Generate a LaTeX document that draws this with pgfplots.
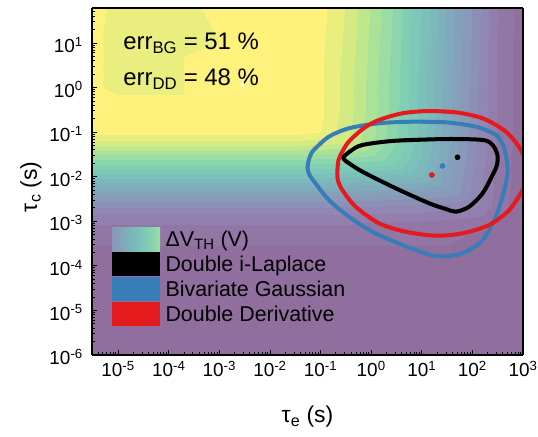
\documentclass[border=0pt]{standalone}
\usepackage{fontspec}
\setmainfont{Liberation Sans}
\usepackage{pgfplots}
\pgfplotsset{compat=1.18}
\definecolor{cBlue}{RGB}{55,126,184}
\definecolor{cRed}{RGB}{228,26,28}
\definecolor{v0}{RGB}{144,110,158}
\definecolor{v1}{RGB}{146,130,177}
\definecolor{v2}{RGB}{137,151,185}
\definecolor{v3}{RGB}{128,170,187}
\definecolor{v4}{RGB}{122,189,186}
\definecolor{v5}{RGB}{126,206,179}
\definecolor{v6}{RGB}{158,223,161}
\definecolor{v7}{RGB}{204,234,132}
\definecolor{v8}{RGB}{254,241,124}
\pgfdeclarehorizontalshading{vleg}{100bp}{color(0bp)=(v0); color(12.5bp)=(v1); color(25bp)=(v2); color(37.5bp)=(v3); color(50bp)=(v4); color(62.5bp)=(v5); color(75bp)=(v6); color(87.5bp)=(v7); color(100bp)=(v8)}
\begin{document}
\begin{tikzpicture}
\begin{axis}[
  view={0}{90},
  scale only axis, width=431bp, height=347bp,
  xmode=log, ymode=log,
  xmin=3.05e-6, xmax=1e3, ymin=1e-6, ymax=61,
  enlargelimits=false,
  axis on top=true,
  colormap={myv}{rgb255=(144,110,158) rgb255=(146,130,177) rgb255=(137,151,185) rgb255=(128,170,187) rgb255=(122,189,186) rgb255=(126,206,179) rgb255=(158,223,161) rgb255=(204,234,132) rgb255=(254,241,124)},
  xtick={1e-5,1e-4,1e-3,1e-2,1e-1,1,10,100,1000},
  xticklabels={10\textsuperscript{-5},10\textsuperscript{-4},10\textsuperscript{-3},10\textsuperscript{-2},10\textsuperscript{-1},10\textsuperscript{0},10\textsuperscript{1},10\textsuperscript{2},10\textsuperscript{3}},
  minor xtick={4e-6,5e-6,6e-6,7e-6,8e-6,9e-6,2e-5,3e-5,4e-5,5e-5,6e-5,7e-5,8e-5,9e-5,2e-4,3e-4,4e-4,5e-4,6e-4,7e-4,8e-4,9e-4,2e-3,3e-3,4e-3,5e-3,6e-3,7e-3,8e-3,9e-3,2e-2,3e-2,4e-2,5e-2,6e-2,7e-2,8e-2,9e-2,0.2,0.3,0.4,0.5,0.6,0.7,0.8,0.9,2,3,4,5,6,7,8,9,20,30,40,50,60,70,80,90,200,300,400,500,600,700,800,900},
  ytick={1e-6,1e-5,1e-4,1e-3,1e-2,1e-1,1,10},
  yticklabels={10\textsuperscript{-6},10\textsuperscript{-5},10\textsuperscript{-4},10\textsuperscript{-3},10\textsuperscript{-2},10\textsuperscript{-1},10\textsuperscript{0},10\textsuperscript{1}},
  minor ytick={2e-6,3e-6,4e-6,5e-6,6e-6,7e-6,8e-6,9e-6,2e-5,3e-5,4e-5,5e-5,6e-5,7e-5,8e-5,9e-5,2e-4,3e-4,4e-4,5e-4,6e-4,7e-4,8e-4,9e-4,2e-3,3e-3,4e-3,5e-3,6e-3,7e-3,8e-3,9e-3,2e-2,3e-2,4e-2,5e-2,6e-2,7e-2,8e-2,9e-2,0.2,0.3,0.4,0.5,0.6,0.7,0.8,0.9,2,3,4,5,6,7,8,9,20,30,40,50,60},
  xtick pos=bottom, ytick pos=left,
  tick align=inside,
  major tick length=5bp, minor tick length=3bp,
  every tick/.style={black, line width=0.8bp},
  axis line style={line width=1.5bp, black},
  xticklabel style={font=\fontsize{19}{19}\selectfont, anchor=base, yshift=-22bp},
  yticklabel style={font=\fontsize{19}{19}\selectfont, anchor=east, inner sep=0pt, xshift=-9bp, yshift=-2bp},
  xlabel={τ\textsubscript{e} (s)},
  ylabel={τ\textsubscript{c} (s)},
  xlabel style={font=\fontsize{23}{23}\selectfont, at={(axis description cs:0.5,-0.196)}, anchor=base},
  ylabel style={font=\fontsize{23}{23}\selectfont, at={(axis description cs:-0.128,0.485)}, anchor=base},
  legend style={at={(axis description cs:0.046,0.368)}, anchor=north west, draw=none, fill=none,
    font=\fontsize{21.5}{23}\selectfont, inner sep=0pt, row sep=1bp, column sep=5bp,
    nodes={inner sep=0.5bp, font=\fontsize{21.5}{23}\selectfont}},
  legend cell align=left,
]
\addplot3[contour filled={number=20}, mesh/rows=18, mesh/cols=15, forget plot] coordinates {
(1e-6,1e-6,0.05) (1e-5,1e-6,0.05) (1e-4,1e-6,0.02) (1e-3,1e-6,0.05) (1e-2,1e-6,0.05) (0.03162,1e-6,0.01) (0.1,1e-6,0.05) (0.3162,1e-6,0.01) (1,1e-6,0.05) (3.162,1e-6,0.05) (10,1e-6,0.01) (31.62,1e-6,0.05) (100,1e-6,0.01) (316.2,1e-6,0.04) (1000,1e-6,0.05)
(1e-6,1e-5,0.05) (1e-5,1e-5,0.05) (1e-4,1e-5,0.05) (1e-3,1e-5,0.05) (1e-2,1e-5,0.02) (0.03162,1e-5,0.05) (0.1,1e-5,0.01) (0.3162,1e-5,0.05) (1,1e-5,0.05) (3.162,1e-5,0.05) (10,1e-5,0.05) (31.62,1e-5,0.01) (100,1e-5,0.05) (316.2,1e-5,0.02) (1000,1e-5,0.05)
(1e-6,1e-4,0.05) (1e-5,1e-4,0.05) (1e-4,1e-4,0.05) (1e-3,1e-4,0.05) (1e-2,1e-4,0.05) (0.03162,1e-4,0.05) (0.1,1e-4,0.05) (0.3162,1e-4,0.05) (1,1e-4,0.05) (3.162,1e-4,0.05) (10,1e-4,0.05) (31.62,1e-4,0.05) (100,1e-4,0.04) (316.2,1e-4,0.02) (1000,1e-4,0.03)
(1e-6,3.162e-4,0.06) (1e-5,3.162e-4,0.06) (1e-4,3.162e-4,0.06) (1e-3,3.162e-4,0.06) (1e-2,3.162e-4,0.06) (0.03162,3.162e-4,0.06) (0.1,3.162e-4,0.06) (0.3162,3.162e-4,0.06) (1,3.162e-4,0.06) (3.162,3.162e-4,0.06) (10,3.162e-4,0.06) (31.62,3.162e-4,0.06) (100,3.162e-4,0.05) (316.2,3.162e-4,0.05) (1000,3.162e-4,0.03)
(1e-6,5.623e-4,0.08) (1e-5,5.623e-4,0.08) (1e-4,5.623e-4,0.08) (1e-3,5.623e-4,0.08) (1e-2,5.623e-4,0.08) (0.03162,5.623e-4,0.08) (0.1,5.623e-4,0.08) (0.3162,5.623e-4,0.08) (1,5.623e-4,0.08) (3.162,5.623e-4,0.08) (10,5.623e-4,0.07) (31.62,5.623e-4,0.07) (100,5.623e-4,0.06) (316.2,5.623e-4,0.05) (1000,5.623e-4,0.03)
(1e-6,1e-3,0.12) (1e-5,1e-3,0.12) (1e-4,1e-3,0.12) (1e-3,1e-3,0.12) (1e-2,1e-3,0.12) (0.03162,1e-3,0.12) (0.1,1e-3,0.12) (0.3162,1e-3,0.12) (1,1e-3,0.11) (3.162,1e-3,0.11) (10,1e-3,0.11) (31.62,1e-3,0.10) (100,1e-3,0.09) (316.2,1e-3,0.06) (1000,1e-3,0.03)
(1e-6,1.778e-3,0.19) (1e-5,1.778e-3,0.19) (1e-4,1.778e-3,0.19) (1e-3,1.778e-3,0.19) (1e-2,1.778e-3,0.19) (0.03162,1.778e-3,0.19) (0.1,1.778e-3,0.19) (0.3162,1.778e-3,0.18) (1,1.778e-3,0.18) (3.162,1.778e-3,0.17) (10,1.778e-3,0.17) (31.62,1.778e-3,0.16) (100,1.778e-3,0.15) (316.2,1.778e-3,0.08) (1000,1.778e-3,0.03)
(1e-6,3.162e-3,0.28) (1e-5,3.162e-3,0.28) (1e-4,3.162e-3,0.28) (1e-3,3.162e-3,0.28) (1e-2,3.162e-3,0.28) (0.03162,3.162e-3,0.28) (0.1,3.162e-3,0.28) (0.3162,3.162e-3,0.27) (1,3.162e-3,0.27) (3.162,3.162e-3,0.26) (10,3.162e-3,0.25) (31.62,3.162e-3,0.24) (100,3.162e-3,0.20) (316.2,3.162e-3,0.08) (1000,3.162e-3,0.03)
(1e-6,5.623e-3,0.40) (1e-5,5.623e-3,0.40) (1e-4,5.623e-3,0.40) (1e-3,5.623e-3,0.40) (1e-2,5.623e-3,0.40) (0.03162,5.623e-3,0.40) (0.1,5.623e-3,0.40) (0.3162,5.623e-3,0.39) (1,5.623e-3,0.38) (3.162,5.623e-3,0.37) (10,5.623e-3,0.35) (31.62,5.623e-3,0.32) (100,5.623e-3,0.20) (316.2,5.623e-3,0.09) (1000,5.623e-3,0.03)
(1e-6,1e-2,0.52) (1e-5,1e-2,0.52) (1e-4,1e-2,0.52) (1e-3,1e-2,0.52) (1e-2,1e-2,0.52) (0.03162,1e-2,0.52) (0.1,1e-2,0.52) (0.3162,1e-2,0.50) (1,1e-2,0.49) (3.162,1e-2,0.48) (10,1e-2,0.46) (31.62,1e-2,0.33) (100,1e-2,0.21) (316.2,1e-2,0.09) (1000,1e-2,0.03)
(1e-6,1.778e-2,0.64) (1e-5,1.778e-2,0.64) (1e-4,1.778e-2,0.64) (1e-3,1.778e-2,0.64) (1e-2,1.778e-2,0.64) (0.03162,1.778e-2,0.64) (0.1,1.778e-2,0.63) (0.3162,1.778e-2,0.62) (1,1.778e-2,0.61) (3.162,1.778e-2,0.59) (10,1.778e-2,0.48) (31.62,1.778e-2,0.35) (100,1.778e-2,0.22) (316.2,1.778e-2,0.09) (1000,1.778e-2,0.03)
(1e-6,3.162e-2,0.76) (1e-5,3.162e-2,0.76) (1e-4,3.162e-2,0.76) (1e-3,3.162e-2,0.76) (1e-2,3.162e-2,0.76) (0.03162,3.162e-2,0.76) (0.1,3.162e-2,0.75) (0.3162,3.162e-2,0.74) (1,3.162e-2,0.72) (3.162,3.162e-2,0.63) (10,3.162e-2,0.50) (31.62,3.162e-2,0.36) (100,3.162e-2,0.23) (316.2,3.162e-2,0.09) (1000,3.162e-2,0.03)
(1e-6,5.623e-2,0.88) (1e-5,5.623e-2,0.88) (1e-4,5.623e-2,0.88) (1e-3,5.623e-2,0.88) (1e-2,5.623e-2,0.88) (0.03162,5.623e-2,0.88) (0.1,5.623e-2,0.87) (0.3162,5.623e-2,0.85) (1,5.623e-2,0.76) (3.162,5.623e-2,0.65) (10,5.623e-2,0.51) (31.62,5.623e-2,0.37) (100,5.623e-2,0.23) (316.2,5.623e-2,0.10) (1000,5.623e-2,0.03)
(1e-6,0.1,0.97) (1e-5,0.1,0.97) (1e-4,0.1,0.97) (1e-3,0.1,0.97) (1e-2,0.1,0.97) (0.03162,0.1,0.97) (0.1,0.1,0.95) (0.3162,0.1,0.87) (1,0.1,0.77) (3.162,0.1,0.66) (10,0.1,0.53) (31.62,0.1,0.38) (100,0.1,0.24) (316.2,0.1,0.10) (1000,0.1,0.03)
(1e-6,0.3162,1) (1e-5,0.3162,1) (1e-4,0.3162,1) (1e-3,0.3162,1) (1e-2,0.3162,1) (0.03162,0.3162,1) (0.1,0.3162,0.96) (0.3162,0.3162,0.88) (1,0.3162,0.78) (3.162,0.3162,0.67) (10,0.3162,0.53) (31.62,0.3162,0.38) (100,0.3162,0.24) (316.2,0.3162,0.10) (1000,0.3162,0.03)
(1e-6,1,1) (1e-5,1,0.93) (1e-4,1,0.93) (1e-3,1,1) (1e-2,1,1) (0.03162,1,1) (0.1,1,0.96) (0.3162,1,0.88) (1,1,0.78) (3.162,1,0.67) (10,1,0.53) (31.62,1,0.38) (100,1,0.24) (316.2,1,0.10) (1000,1,0.03)
(1e-6,10,1) (1e-5,10,0.93) (1e-4,10,0.93) (1e-3,10,0.95) (1e-2,10,1) (0.03162,10,1) (0.1,10,0.96) (0.3162,10,0.89) (1,10,0.79) (3.162,10,0.68) (10,10,0.54) (31.62,10,0.39) (100,10,0.25) (316.2,10,0.10) (1000,10,0.03)
(1e-6,100,1) (1e-5,100,0.94) (1e-4,100,0.94) (1e-3,100,0.96) (1e-2,100,1) (0.03162,100,1) (0.1,100,0.97) (0.3162,100,0.90) (1,100,0.80) (3.162,100,0.69) (10,100,0.55) (31.62,100,0.40) (100,100,0.26) (316.2,100,0.11) (1000,100,0.03)
};
% Bivariate Gaussian
\addplot3[smooth, cBlue, line width=4bp, forget plot] coordinates {
(6.55,0.1714,1) (29.9,0.1663,1) (117.3,0.1324,1) (291.7,8.63e-2,1) (426.6,4.345e-2,1) (497.7,1.545e-2,1) (471,8.43e-3,1) (426.6,5.04e-3,1) (291.7,1.268e-3,1) (159.2,3.80e-4,1) (63.9,1.914e-4,1) (18.9,1.663e-4,1) (4.15,2.94e-4,1) (1.056,5.83e-4,1) (0.363,1.268e-3,1) (0.1459,3.006e-3,1) (7.96e-2,7.11e-3,1) (6.05e-2,1.094e-2,1) (5.53e-2,1.570e-2,1) (5.86e-2,2.371e-2,1) (6.64e-2,3.404e-2,1) (7.96e-2,4.345e-2,1) (0.1459,7.91e-2,1) (0.363,0.1219,1) (1.427,0.1581,1) (6.55,0.1714,1) (29.9,0.1663,1)
};
% Double Derivative
\addplot3[smooth, cRed, line width=4bp, forget plot] coordinates {
(13.96,0.2979,1) (47.1,0.2786,1) (159.2,0.2046,1) (460.3,0.1023,1) (912,3.98e-2,1) (1256,1.570e-2,1) (1200,8.43e-3,1) (986,5.04e-3,1) (535.8,1.791e-3,1) (215.3,8.26e-4,1) (63.9,5.38e-4,1) (18.9,4.75e-4,1) (4.82,5.83e-4,1) (1.427,9.02e-4,1) (0.493,2.123e-3,1) (0.269,5.04e-3,1) (0.222,8.02e-3,1) (0.2143,1.211e-2,1) (0.227,2.371e-2,1) (0.269,3.64e-2,1) (0.343,5.71e-2,1) (0.493,8.63e-2,1) (0.778,0.1306,1) (1.427,0.1875,1) (4.15,0.2649,1) (13.96,0.2979,1) (47.1,0.2786,1)
};
% Double i-Laplace
\addplot3[smooth, black, line width=4bp, forget plot] coordinates {
(3.055,6.43e-2,1) (29.9,7.01e-2,1) (159.2,6.67e-2,1) (251,5.15e-2,1) (312.6,3.069e-2,1) (305.5,1.832e-2,1) (251,1.094e-2,1) (159.2,4.246e-3,1) (86.5,2.123e-3,1) (47.1,1.641e-3,1) (29.9,1.888e-3,1) (13.96,2.535e-3,1) (3.055,5.50e-3,1) (0.670,1.297e-2,1) (0.358,2.032e-2,1) (0.292,2.432e-2,1) (0.289,2.81e-2,1) (0.393,3.776e-2,1) (0.670,5.15e-2,1) (3.055,6.43e-2,1) (29.9,7.01e-2,1)
};
\addplot3[only marks, mark=*, mark size=2.6bp, cBlue, forget plot] coordinates {(25.7,1.742e-2,1)};
\addplot3[only marks, mark=*, mark size=2.6bp, cRed, forget plot] coordinates {(15.8,1.094e-2,1)};
\addplot3[only marks, mark=*, mark size=2.6bp, black, forget plot] coordinates {(50.9,2.729e-2,1)};
\addplot3[only marks, mark=diamond*, mark size=2.5bp, white, forget plot] coordinates {(2.9e-3,1.17,1)};
\addlegendimage{legend image code/.code={\shade[shading=vleg, draw=none, line width=0pt] (0bp,-12bp) rectangle (48bp,12bp);}}
\addlegendentry{ΔV\textsubscript{TH} (V)}
\addlegendimage{legend image code/.code={\fill[black, draw=none] (0bp,-12bp) rectangle (48bp,12bp);}}
\addlegendentry{Double i-Laplace}
\addlegendimage{legend image code/.code={\fill[cBlue, draw=none] (0bp,-12bp) rectangle (48bp,12bp);}}
\addlegendentry{Bivariate Gaussian}
\addlegendimage{legend image code/.code={\fill[cRed, draw=none] (0bp,-12bp) rectangle (48bp,12bp);}}
\addlegendentry{Double Derivative}
\node[anchor=base west, inner sep=0pt, font=\fontsize{24}{24}\selectfont] at (axis cs:1.256e-5,7.15,1) {err\textsubscript{BG} = 51 \%};
\node[anchor=base west, inner sep=0pt, font=\fontsize{24}{24}\selectfont] at (axis cs:1.256e-5,1.113,1) {err\textsubscript{DD} = 48 \%};
\end{axis}
\pgfresetboundingbox
\path[use as bounding box] ([shift={(-92bp,-82bp)}]current axis.south west) rectangle ([shift={(15bp,8bp)}]current axis.north east);
\end{tikzpicture}
\end{document}
